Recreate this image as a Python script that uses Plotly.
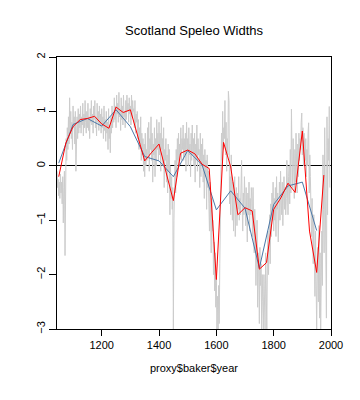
import plotly.graph_objects as go

gray_years = list(range(1044, 1997, 2))
gray_values = [
    -0.1, -0.4, -0.25, -0.55, -0.3, -0.6, -0.15, -0.5, -0.3, -0.7, -0.2, -1.05, -0.4, -0.1, -1.65, 0.2, 0.5, 0.1, 0.7, 0.3,
    0.9, 0.4, 1.25, 0.6, 1.0, 0.5, 0.8, 0.3, 1.1, 0.7, 0.9, 0.4, 1.0, -0.1, 0.7, 0.9, 0.5, 1.05, 0.6, 0.95,
    0.7, 1.1, 0.6, 0.9, 0.75, 1.15, 0.55, 0.95, 0.7, 1.2, 0.8, 0.6, 1.0, 0.7, 1.15, 0.65, 0.9, 0.5, 1.05, 0.8,
    1.2, 0.75, 0.95, 0.6, 1.1, 0.85, 1.2, 0.7, 0.9, 0.55, 1.15, 0.8, 1.0, 0.65, 1.1, 0.75, 0.95, 0.6, 1.05, 0.7,
    0.9, 0.5, 1.1, 0.65, 0.85, 0.45, 1.0, 0.6, 0.8, 0.3, 1.05, 0.5, 0.75, 0.24, 0.9, 0.6, 1.1, 0.7, 1.0, 0.8,
    1.25, 0.85, 1.1, 0.7, 1.3, 0.95, 1.15, 0.8, 1.35, 0.9, 1.05, 0.65, 1.25, 0.85, 1.1, 0.75, 1.3, 0.9, 1.0, 0.7,
    1.2, 0.85, 1.3, 1.0, 1.15, 0.8, 1.25, 0.95, 1.1, 0.75, 1.3, 0.9, 1.2, 1.0, 1.05, 0.7, 1.2, 0.6, 0.95, 0.8,
    1.0, 0.5, 0.85, 0.3, 0.7, 0.4, 0.9, 0.1, 0.6, 0.2, 0.5, -0.1, 0.4, -0.2, 0.6, 0.0, 0.3, 0.1, 0.7, 0.2,
    0.8, -0.1, 0.5, 0.3, 0.9, 0.1, 0.6, -0.3, 0.4, 0.2, 0.7, -0.2, 0.5, 0.0, 0.85, 0.3, 0.6, 0.1, 0.8, 0.2,
    0.6, -0.1, 0.9, 0.3, 0.5, 0.0, 0.7, -0.4, 0.3, 0.1, 0.5, -0.3, 0.2, -0.5, 0.4, -0.1, 0.3, -0.9, 0.0, -0.6,
    -0.2, -0.8, -0.4, -3.0, -1.0, -0.3, 0.1, -0.5, 0.3, -0.2, 0.5, 0.1, 0.6, 0.0, 0.4, 0.2, 0.7, 0.1, 0.5, 0.3,
    0.75, 0.1, 0.5, 0.2, 0.6, -0.1, 0.8, 0.3, 0.5, 0.0, 0.7, 0.2, 0.4, -0.2, 0.6, 0.1, 0.75, 0.2, 0.5, 0.0,
    0.6, -0.3, 0.4, 0.1, 0.75, -0.1, 0.5, 0.2, 0.3, -0.4, 0.6, -0.2, 0.4, 0.0, 0.5, -0.3, 0.2, -0.6, 0.3, -0.2,
    0.1, -0.8, 0.2, -0.4, -0.1, -0.7, -1.2, -0.3, -0.9, -1.6, -0.6, -1.2, -1.0, -2.0, -1.4, -2.3, -1.6, -2.6, -2.0, -3.0,
    -2.4, -3.0, -2.2, -2.9, -1.8, -1.0, -0.2, 0.6, 0.1, 1.0, 0.3, 0.7, 0.5, 1.2, 0.2, 0.8, -0.1, 0.5, 0.2, 1.37,
    1.2, -0.7, -0.2, -0.9, 0.2, -0.5, -1.0, -0.3, -1.2, -0.6, -0.2, -1.3, -0.7, -0.4, -1.1, -0.5, -0.8, -0.2, -1.0, -0.6,
    -0.9, -0.3, 0.1, -0.7, -1.2, -0.5, -0.9, -0.2, -0.6, -1.1, -0.4, -0.8, -1.4, -0.5, -0.9, -0.3, -1.2, -0.6, -0.9, -0.4,
    -0.6, -1.3, -0.4, -1.0, -1.6, -0.8, -1.2, -2.2, -1.4, -1.0, -2.6, -1.6, -1.9, -2.9, -1.5, -2.2, -1.8, -3.0, -2.0, -2.5,
    -3.0, -2.0, -2.6, -3.0, -1.6, -2.4, -3.0, -1.8, -1.2, -2.0, -1.5, -0.9, -1.8, -0.7, -1.3, -0.5, -1.0, -0.3, -1.2, -0.6,
    -1.0, -0.4, -1.3, -0.2, -0.8, -0.5, -1.4, -0.7, -0.3, -1.0, -0.1, -0.6, -0.9, -0.3, -1.1, -0.5, -0.2, -0.8, -0.4, -0.9,
    -0.6, 0.1, -0.4, -0.9, -0.2, 0.0, -0.7, 0.3, -0.5, 1.04, 0.2, -0.4, 0.5, -0.1, -0.6, 0.3, -0.3, 0.6, 0.1, -0.5,
    0.4, -0.2, 0.6, 0.1, 0.5, 0.3, 0.8, 0.97, 0.2, 0.7, 0.0, 0.6, 0.4, 0.1, 0.5, -0.2, 0.3, 0.0, 0.6, 0.79,
    -0.5, 0.2, -0.2, -0.9, -1.3, -0.6, -1.0, -1.8, -0.9, -1.4, -2.4, -1.2, -1.8, -3.0, -2.0, -1.5, -2.5, -1.1, -2.8, -1.6,
    -3.0, -1.9, -1.2, -2.2, 0.2, -0.8, -1.6, 0.7, -0.5, -1.5, -2.8, 0.9, -0.9, 0.5, 0.1, 1.09, -0.4,
]

# 25-year means (red)
red_years = list(range(1050, 1976, 25))
red_values = [
    -0.20, 0.42, 0.72, 0.85, 0.87, 0.91, 0.77, 0.69, 1.08, 0.98,
    1.03, 0.55, 0.09, 0.25, 0.40, -0.13, -0.64, 0.23, 0.29, 0.22,
    0.03, -0.05, -2.09, 0.43, -0.02, -0.90, -0.77, -0.83, -1.90, -1.78,
    -0.80, -0.59, -0.32, -0.49, 0.64, -1.20, -1.96, -0.17,
]

# 50-year means (blue)
blue_years = list(range(1050, 1951, 50))
blue_values = [
    0.05, 0.76, 0.87, 0.73, 1.03, 0.72, 0.17, 0.09, -0.20, 0.28,
    0.02, -0.81, -0.46, -0.78, -1.88, -0.71, -0.37, -0.30, -1.19,
]

x_ticks = [1200, 1400, 1600, 1800, 2000]
y_ticks = [-3, -2, -1, 0, 1, 2]

font_family = "Liberation Sans, Arial, sans-serif"

fig = go.Figure()
fig.add_trace(go.Scatter(x=gray_years, y=gray_values, mode="lines",
                         line=dict(color="#cccccc", width=1), showlegend=False))
fig.add_trace(go.Scatter(x=blue_years, y=blue_values, mode="lines",
                         line=dict(color="#4a78a8", width=1), showlegend=False))
fig.add_trace(go.Scatter(x=red_years, y=red_values, mode="lines",
                         line=dict(color="#ff0000", width=1), showlegend=False))

fig.update_layout(
    width=360, height=400,
    margin=dict(l=57, r=29, t=57, b=71),
    paper_bgcolor="white", plot_bgcolor="white",
    font=dict(family=font_family, size=11, color="black"),
    title=dict(text="Scotland Speleo Widths", x=0.539, xanchor="center",
               y=0.925, yanchor="middle",
               font=dict(family=font_family, size=13, color="black")),
    xaxis=dict(range=[1044, 2000], tickvals=x_ticks, ticks="outside", ticklen=6,
               tickcolor="black", showline=True, linecolor="black", linewidth=1,
               mirror=True, showgrid=False, zeroline=False,
               title=dict(text="proxy$baker$year", standoff=14,
                          font=dict(family=font_family, size=11))),
    yaxis=dict(range=[-3, 2], tickvals=y_ticks, ticks="outside", ticklen=7,
               tickcolor="black", showline=True, linecolor="black", linewidth=1,
               mirror=True, showgrid=False, zeroline=True, zerolinecolor="black",
               zerolinewidth=1, tickangle=-90),
)

fig.write_html("out.html", config={"displayModeBar": False},
               post_script="document.body.style.margin='0';document.body.style.padding='0';")
